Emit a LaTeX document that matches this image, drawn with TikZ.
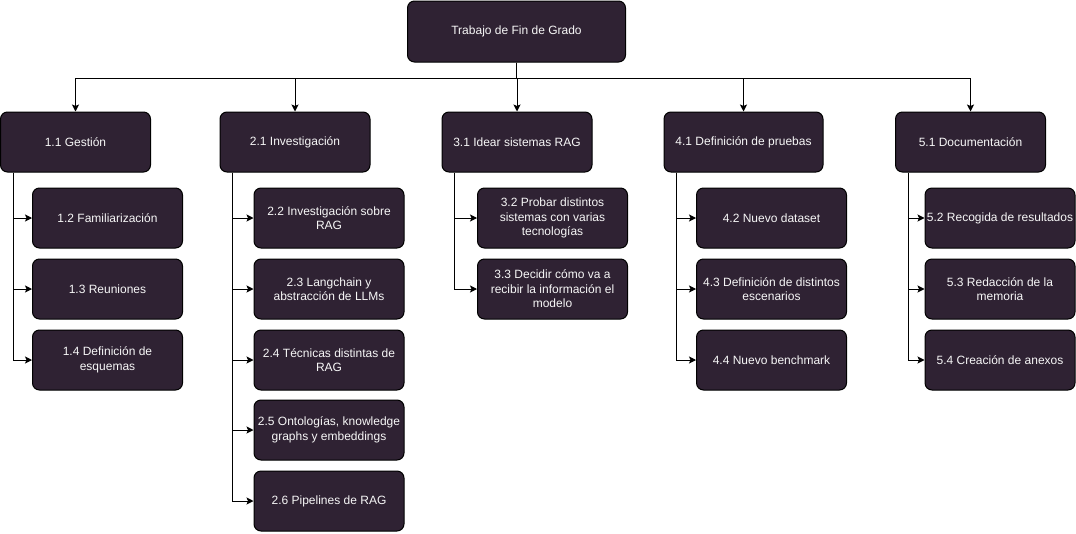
\documentclass[tikz,border=0pt]{standalone}
\usepackage{fontspec}
\setmainfont{Liberation Sans}
\usetikzlibrary{arrows.meta}
\definecolor{fondo}{RGB}{47,34,51}
\begin{document}
\begin{tikzpicture}[x=1pt, y=-1pt,
                  caja/.style={draw, line width=1pt, fill=fondo, rounded corners=7pt,
                     text=white!94!gray, align=center, inner sep=1pt,
                     font=\fontsize{12}{14.5}\selectfont},
                  grand/.style={caja, minimum height=60pt, minimum width=150pt},
                  petit/.style={caja, minimum height=60pt, minimum width=150pt},
                  >={Stealth[length=7pt,width=7pt,inset=1.5pt]}, line width=1pt]
\useasboundingbox (0,0) rectangle (1076,533);
\node[caja, minimum height=61pt, minimum width=218pt] (tfg) at (516.5, 31.5) {Trabajo de Fin de Grado};
\foreach \i/\x/\w/\t in {1/75.5/150/1.1 Gestión, 2/295/150/2.1 Investigación,
                         3/517/150/3.1 Idear sistemas RAG, 4/743.5/159/4.1 Definición de pruebas,
                         5/970.5/150/5.1 Documentación}
  {\node[grand, minimum width=\w pt] (g\i) at (\x, 142) {\t};
   \draw[->] (tfg.south) -- ++(0,16) -| (g\i.north);};
\foreach \n/\x/\y/\t in {12/107.5/218/1.2 Familiarización, 13/107.5/289/1.3 Reuniones,
                         14/107.5/360/{1.4 Definición de\\esquemas},
                         22/329/218/{2.2 Investigación sobre\\RAG},
                         23/329/289/{2.3 Langchain y\\abstracción de LLMs},
                         24/329/360/{2.4 Técnicas distintas de\\RAG},
                         25/329/430/{2.5 Ontologías, knowledge\\graphs y embeddings},
                         26/329/501/2.6 Pipelines de RAG,
                         32/552.5/218/{3.2 Probar distintos\\sistemas con varias\\tecnologías},
                         33/552.5/289/{3.3 Decidir cómo va a\\recibir la información el\\modelo},
                         42/771.5/218/4.2 Nuevo dataset,
                         43/771.5/289/{4.3 Definición de distintos\\escenarios},
                         44/771.5/360/4.4 Nuevo benchmark,
                         52/1000/218/5.2 Recogida de resultados,
                         53/1000/289/{5.3 Redacción de la\\memoria},
                         54/1000/360/5.4 Creación de anexos}
  \node[petit] (s\n) at (\x, \y) {\t};
\foreach \p/\c in {1/12, 1/13, 1/14, 2/22, 2/23, 2/24, 2/25, 2/26,
                   3/32, 3/33, 4/42, 4/43, 4/44, 5/52, 5/53, 5/54}
   \draw[->] ([xshift=13pt]g\p.south west) |- (s\c.west);
\end{tikzpicture}
\end{document}
